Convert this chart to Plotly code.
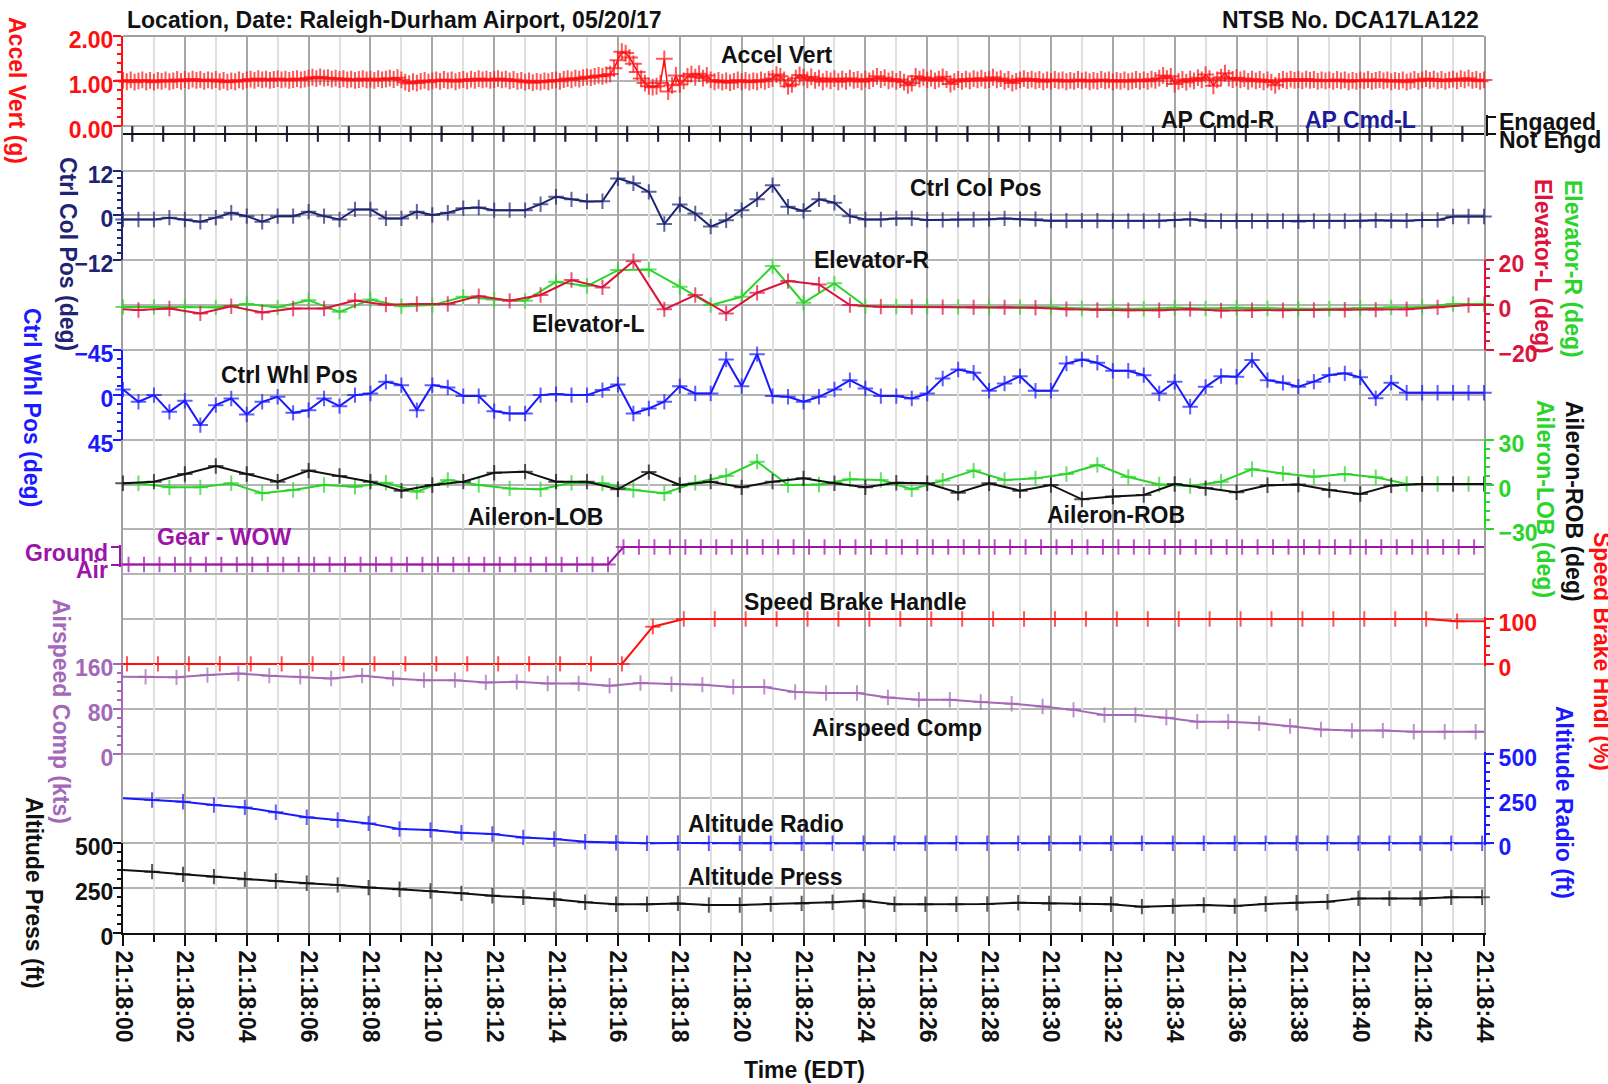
import numpy as np
import pandas as pd
import plotly.graph_objects as go

FONT = "Liberation Sans, Arial, sans-serif"
T0 = pd.Timestamp("2017-05-20 21:18:00")
SPAN = 44.0  # seconds shown on the time axis

# ---------------------------------------------------------------- data
# Accel Vert (g), 8 samples per second from 21:18:00
accel_vert = [
    1.01, 0.98, 1.02, 0.97, 1.00, 1.02, 0.98, 1.01,
    0.97, 1.01, 0.99, 1.02, 0.98, 1.00, 1.03, 0.99,
    1.03, 1.00, 1.04, 1.01, 1.03, 0.99, 1.02, 1.00,
    1.03, 0.98, 1.01, 0.97, 1.00, 0.98, 1.02, 0.99,
    1.02, 1.04, 1.01, 1.05, 1.02, 1.04, 1.01, 1.03,
    1.05, 1.02, 1.04, 1.01, 1.03, 1.05, 1.02, 1.04,
    1.06, 1.08, 1.05, 1.09, 1.06, 1.07, 1.04, 1.06,
    1.03, 1.05, 1.02, 1.04, 1.01, 1.03, 1.05, 1.02,
    1.04, 1.01, 1.05, 1.02, 1.04, 1.06, 1.03, 1.07,
    1.02, 0.97, 0.94, 0.98, 0.95, 0.99, 1.01, 0.97,
    1.00, 1.02, 0.99, 1.03, 1.00, 1.02, 0.98, 1.01,
    1.03, 1.00, 1.04, 1.01, 1.05, 1.02, 1.04, 1.01,
    1.03, 1.05, 1.02, 1.04, 1.00, 1.03, 0.99, 1.01,
    0.97, 1.00, 0.96, 0.99, 0.97, 1.00, 0.98, 1.01,
    1.02, 0.99, 1.03, 1.05, 1.02, 1.06, 1.04, 1.07,
    1.09, 1.07, 1.10, 1.12, 1.10, 1.13, 1.15, 1.28,
    1.46, 1.65, 1.62, 1.52, 1.38, 1.20, 1.05, 0.95,
    0.88, 0.86, 0.88, 0.95, 1.49, 0.76, 0.90, 1.12,
    0.92, 1.00, 1.10, 1.15, 1.08, 1.16, 1.06, 1.12,
    1.02, 0.98, 1.01, 0.97, 1.00, 0.96, 0.99, 1.02,
    0.98, 1.01, 0.97, 1.00, 0.98, 1.02, 0.99, 1.03,
    1.05, 1.14, 1.10, 1.02, 0.88, 0.92, 1.06, 1.13,
    1.08, 1.02, 1.09, 1.01, 1.06, 0.98, 1.04, 1.00,
    1.05, 0.98, 1.04, 0.99, 1.06, 1.01, 1.03, 0.98,
    1.04, 1.00, 1.05, 1.10, 1.03, 1.07, 1.00, 1.04,
    0.99, 1.03, 0.97, 0.90, 0.95, 1.10, 1.04, 1.08,
    1.02, 1.06, 1.00, 1.04, 1.09, 1.03, 0.93, 0.98,
    1.03, 0.99, 1.04, 1.00, 1.05, 1.02, 1.06, 1.01,
    1.03, 1.08, 1.02, 1.05, 0.99, 1.03, 0.95, 0.99,
    1.02, 1.05, 1.01, 1.04, 1.00, 1.03, 0.98, 1.02,
    0.99, 1.03, 1.00, 1.02, 0.98, 1.01, 0.99, 1.03,
    1.00, 1.02, 0.98, 1.01, 0.99, 1.03, 1.00, 1.02,
    0.98, 1.01, 0.99, 1.02, 0.98, 1.00, 1.03, 0.99,
    1.02, 0.99, 1.04, 1.01, 1.06, 1.12, 1.05, 1.10,
    0.93, 0.99, 1.03, 0.97, 1.04, 1.00, 1.07, 1.02,
    1.14, 1.05, 0.89, 1.02, 1.08, 1.17, 1.06, 1.03,
    1.07, 1.02, 1.05, 0.99, 1.04, 1.00, 1.03, 0.98,
    1.02, 0.97, 0.90, 0.99, 1.03, 1.00, 1.04, 1.01,
    1.03, 1.00, 1.04, 1.01, 1.03, 0.99, 1.02, 1.00,
    1.02, 0.99, 1.03, 1.00, 1.02, 0.98, 1.01, 0.99,
    1.02, 1.00, 1.03, 0.99, 1.01, 1.03, 1.00, 1.02,
    0.98, 1.01, 0.99, 1.02, 0.97, 1.00, 1.03, 0.99,
    1.02, 1.05, 1.01, 1.04, 1.00, 1.03, 0.99, 1.02,
    1.04, 1.00, 1.05, 1.02, 1.06, 1.01, 1.03, 0.99,
    1.02,
]

# Autopilot command discretes (0 = Not Engd, 1 = Engaged), 1 per second
ap_cmd_r = [
    0, 0, 0, 0, 0, 0, 0, 0, 0, 0, 0, 0, 0, 0, 0, 0, 0, 0, 0, 0, 0, 0,
    0, 0, 0, 0, 0, 0, 0, 0, 0, 0, 0, 0, 0, 0, 0, 0, 0, 0, 0, 0, 0, 0,
]
ap_cmd_l = [
    0, 0, 0, 0, 0, 0, 0, 0, 0, 0, 0, 0, 0, 0, 0, 0, 0, 0, 0, 0, 0, 0,
    0, 0, 0, 0, 0, 0, 0, 0, 0, 0, 0, 0, 0, 0, 0, 0, 0, 0, 0, 0, 0, 0,
]
ap_edge = (0, 0)

# Ctrl Col Pos (deg), 2 per second
ctrl_col = [
    -1.1, -1.1, -1.1, -0.6, -1.1, -1.7, -0.6, 0.7, -0.2, -1.7,
    -0.2, -0.2, 1.0, -0.2, -1.1, 1.6, 1.6, -0.8, -0.8, 1.0,
    0.1, 0.7, 1.9, 2.1, 1.4, 1.4, 1.4, 3.0, 5.0, 4.3,
    3.7, 3.8, 9.9, 8.6, 6.3, -2.3, 2.9, 0.5, -3.0, -1.3,
    1.4, 4.3, 8.1, 2.3, 1.2, 4.3, 3.4, -0.2, -1.1, -1.1,
    -0.8, -0.8, -1.2, -1.2, -1.1, -1.1, -1.0, -0.8, -1.0, -1.0,
    -1.4, -1.4, -1.4, -1.4, -1.5, -1.5, -1.5, -1.4, -1.2, -1.0,
    -1.4, -1.5, -1.5, -1.5, -1.5, -1.5, -1.6, -1.5, -1.5, -1.5,
    -1.4, -1.3, -1.4, -1.4, -1.2, -1.2, -0.3, -0.3, -0.3,
]

# Elevator-R (deg), 1 per second on the second
elevator_r = [
    -0.8, -0.8, -0.8, -1.0, 0.5, -1.0, 2.2, -3.0, 2.5, -0.5,
    0.0, 3.7, 2.5, 1.9, 10.4, 8.5, 15.6, 15.9, 8.2, 0.0,
    3.7, 17.4, 1.0, 9.7, -0.5, -0.7, -0.7, -0.8, -0.8, -0.9,
    -1.0, -1.5, -1.5, -1.6, -1.2, -1.5, -1.2, -1.5, -1.6, -1.6,
    -1.3, -1.0, -0.8, 0.5, 0.5,
]
# Elevator-L (deg), 1 per second on the half second
elevator_l = [
    -2.2, -1.5, -3.7, -0.5, -3.3, -1.5, -1.5, 2.0, 0.2, 0.5,
    0.5, 4.0, 1.9, 4.5, 11.2, 7.9, 19.6, -1.9, 4.5, -3.7,
    5.5, 10.7, 9.2, 0.0, -0.7, -0.8, -0.9, -1.0, -1.0, -1.2,
    -1.8, -2.2, -2.3, -2.3, -1.8, -2.4, -2.3, -2.3, -2.2, -2.1,
    -2.0, -1.8, -1.0, 0.0,
]
elevator_l_edge = (-1.9, 0.0)

# Ctrl Whl Pos (deg), 2 per second
ctrl_whl = [
    -5.4, 7.0, 0.3, 17.1, 6.0, 30.4, 10.4, 3.7, 19.7, 7.0,
    2.0, 18.1, 15.4, 3.7, 11.4, 0.3, -1.3, -13.0, -9.7, 15.4,
    -9.7, -7.4, 1.3, 1.3, 16.4, 18.7, 18.7, 0.3, -0.7, 0.3,
    0.3, -4.7, -10.4, 18.7, 13.7, 7.0, -8.7, -1.3, -1.3, -35.4,
    -8.7, -40.8, 1.3, 2.0, 7.0, 2.0, -5.4, -14.7, -6.4, 1.3,
    1.3, 3.7, -1.3, -16.4, -25.4, -22.1, -4.0, -11.4, -18.7, -4.0,
    -4.0, -31.4, -35.4, -32.1, -24.1, -24.1, -19.7, -1.3, -13.0, 12.0,
    -8.0, -18.7, -18.1, -34.8, -14.7, -12.0, -8.2, -13.2, -19.9, -21.5,
    -17.5, 3.5, -12.2, -2.0, -2.0, -2.0, -2.0, -2.0, -2.0,
]

# Aileron-ROB (deg), 1 per second on the second
aileron_rob = [
    0.8, 1.9, 7.0, 12.4, 7.0, 1.9, 9.3, 5.7, 1.9, -4.1,
    -0.3, 1.9, 7.9, 8.6, 1.9, 1.9, -3.2, 8.3, -0.3, 1.9,
    -1.9, 1.9, 4.1, 0.8, -1.9, 1.2, 0.8, -5.5, 0.8, -4.1,
    -0.3, -9.9, -8.1, -7.0, 0.3, -2.4, -5.2, -0.5, 0.0, -3.7,
    -6.4, -0.6, 0.3, 0.3, 0.3,
]
# Aileron-LOB (deg), 1 per second on the half second
aileron_lob = [
    0.8, -1.9, -1.9, 0.8, -5.9, -3.7, -0.3, -1.5, 1.2, -4.8,
    3.0, -0.3, -2.6, -3.2, 1.2, 0.8, -3.7, -5.9, 1.2, 5.7,
    15.3, -0.3, 0.0, 3.5, 3.0, -3.2, 2.6, 9.3, 3.0, 4.1,
    7.0, 13.1, 5.0, 0.0, -1.0, 1.9, 10.2, 7.3, 5.2, 7.0,
    4.8, 0.3, 0.3, 0.3,
]
aileron_lob_edge = (0.8, 0.3)

# Gear - WOW (0 = Air, 1 = Ground), 2 per second
gear_wow = [
    0, 0, 0, 0, 0, 0, 0, 0,
    0, 0, 0, 0, 0, 0, 0, 0,
    0, 0, 0, 0, 0, 0, 0, 0,
    0, 0, 0, 0, 0, 0, 0, 0,
    1, 1, 1, 1, 1, 1, 1, 1,
    1, 1, 1, 1, 1, 1, 1, 1,
    1, 1, 1, 1, 1, 1, 1, 1,
    1, 1, 1, 1, 1, 1, 1, 1,
    1, 1, 1, 1, 1, 1, 1, 1,
    1, 1, 1, 1, 1, 1, 1, 1,
    1, 1, 1, 1, 1, 1, 1, 1,
]
gear_edge = (0, 1)

# Speed Brake Handle (%), 1 per second
speed_brake = [
    0, 0, 0, 0, 0, 0, 0, 0, 0, 0,
    0, 0, 0, 0, 0, 0, 0, 83, 100, 100,
    100, 100, 100, 100, 100, 100, 100, 100, 100, 100,
    100, 100, 100, 100, 100, 100, 100, 100, 100, 100,
    100, 100, 100, 95,
]
speed_brake_edge = (0, 95)

# Airspeed Comp (kts), 1 per second
airspeed = [
    137, 136, 140, 143, 139, 137, 134, 139, 134, 131,
    131, 127, 128, 125, 125, 121, 126, 124, 123, 119,
    119, 110, 108, 108, 100, 96, 96, 92, 89, 84,
    78, 69, 69, 64, 57, 57, 54, 49, 43, 41,
    41, 39, 39, 39,
]
airspeed_edge = (137, 39)

# Altitude Radio (ft), 1 per second
alt_radio = [
    241, 232, 213, 200, 173, 145, 130, 111, 80, 74,
    59, 52, 33, 24, 9, 3, 0, 2, 0, 0,
    0, 0, 0, 0, 0, 0, 0, 0, 0, 0,
    0, 0, 0, 0, 0, 0, 0, 0, 0, 0,
    0, 0, 0, 0,
]
alt_radio_edge = (251, None)

# Altitude Press (ft), 1 per second
alt_press = [
    342, 327, 314, 299, 290, 277, 268, 253, 244, 234,
    221, 208, 199, 188, 171, 160, 160, 165, 156, 156,
    162, 165, 171, 180, 160, 160, 160, 162, 169, 165,
    162, 160, 147, 150, 156, 150, 162, 169, 174, 193,
    193, 193, 199, 199,
]
alt_press_edge = (351, None)

# sample times (s after 21:18:00)
accel_t = np.arange(len(accel_vert)) / 8.0
ap_t = 0.3 + np.arange(len(ap_cmd_r))
col_t = 0.5 * np.arange(len(ctrl_col))
elev_r_t = np.arange(len(elevator_r)) * 1.0
elev_l_t = 0.5 + np.arange(len(elevator_l))
whl_t = 0.5 * np.arange(len(ctrl_whl))
rob_t = np.arange(len(aileron_rob)) * 1.0
lob_t = 0.5 + np.arange(len(aileron_lob))
gear_t = 0.18 + 0.5 * np.arange(len(gear_wow))
sb_t = 0.13 + np.arange(len(speed_brake))
aspd_t = 0.73 + np.arange(len(airspeed))
alt_t = 0.94 + np.arange(len(alt_radio))

# ---------------------------------------------------------------- colours
RED = "#ff1010"
NAVY = "#1e2472"
CRIMSON = "#dc143c"
GREEN = "#2ad42a"
BLUE = "#1a1aff"
PURPLE = "#9c14a8"
LILAC = "#a468b8"
BLACK = "#111111"
GRID = "#b4b4b4"
MINOR_GRID = "#e0e0e0"
BORDER = "#a0a0a0"

# ---------------------------------------------------------------- geometry
W, H = 1608, 1084
ML, MR, MT, MB = 123, 124, 36, 151
PW, PH = W - ML - MR, H - MT - MB
ROWS = 20
ROW_PX = PH / ROWS


def band(top_row, bot_row, lo, hi, pad=0.0):
    """Domain/range for a strip of the grid: `hi` on top_row, `lo` on bot_row."""
    h = (bot_row - top_row) * ROW_PX
    upp = (hi - lo) / h
    d0 = 1 - bot_row / ROWS - pad / PH
    d1 = 1 - top_row / ROWS + pad / PH
    return [d0, d1], [lo - pad * upp, hi + pad * upp]


def value_axis(top_row, bot_row, lo, hi, color, side, tickvals, minor=None,
               fmt=None, pad=0.0, labels=True, free_shift=None):
    domain, rng = band(top_row, bot_row, lo, hi, pad)
    # labels sit a few pixels below their ticks (shift follows the value direction)
    shift = 4 if hi > lo else -4
    ax = dict(domain=domain, range=rng, side=side, showgrid=False, zeroline=False,
              showline=True, linecolor=color, linewidth=2,
              ticks="outside", ticklen=8, tickwidth=2, tickcolor=color,
              tickmode="array", tickvals=tickvals, showticklabels=labels,
              ticklabelstandoff=-5 if side == "left" else 0,
              ticklabelshift=shift,
              tickfont=dict(family=FONT, size=23, color=color, weight="bold"),
              fixedrange=True)
    if free_shift is None:
        ax["anchor"] = "x"
    else:
        ax["anchor"] = "free"
        ax["position"] = 0 if side == "left" else 1
        ax["shift"] = free_shift
    if fmt:
        ax["tickformat"] = fmt
    if minor:
        ax["minor"] = dict(dtick=minor, ticks="outside", ticklen=4, tickwidth=1.5,
                           tickcolor=color, showgrid=False)
    return ax


fig = go.Figure()


def to_time(seconds):
    return [T0 + pd.Timedelta(seconds=float(s)) for s in seconds]


def series(t, v, yref, color, edge=(None, None), size=11, width=2):
    t = list(t)
    v = list(v)
    sizes = [size] * len(v)
    lead, tail = edge
    if lead is not None:
        t, v, sizes = [0.0] + t, [lead] + v, [0] + sizes
    if tail is not None:
        t, v, sizes = t + [SPAN], v + [tail], sizes + [0]
    fig.add_trace(go.Scatter(
        x=to_time(t), y=v, xaxis="x", yaxis=yref, mode="lines+markers",
        line=dict(color=color, width=width),
        marker=dict(symbol="cross-thin", size=sizes, color=color,
                    line=dict(color=color, width=2)),
        cliponaxis=False, showlegend=False, hoverinfo="skip"))


# empty trace that carries the background grid subplot
fig.add_trace(go.Scatter(x=[], y=[], xaxis="x", yaxis="y", showlegend=False))

series(accel_t, accel_vert, "y2", RED, size=12, width=1.5)
series(ap_t, ap_cmd_l, "y3", NAVY, edge=ap_edge)
series(ap_t, ap_cmd_r, "y3", BLACK, edge=ap_edge)
series(col_t, ctrl_col, "y4", NAVY)
series(elev_r_t, elevator_r, "y5", GREEN)
series(elev_l_t, elevator_l, "y5", CRIMSON, edge=elevator_l_edge)
series(whl_t, ctrl_whl, "y6", BLUE)
series(lob_t, aileron_lob, "y7", GREEN, edge=aileron_lob_edge)
series(rob_t, aileron_rob, "y7", BLACK)
series(gear_t, gear_wow, "y8", PURPLE, edge=gear_edge)
series(sb_t, speed_brake, "y9", RED, edge=speed_brake_edge)
series(aspd_t, airspeed, "y10", LILAC, edge=airspeed_edge)
series(alt_t, alt_radio, "y11", BLUE, edge=alt_radio_edge)
series(alt_t, alt_press, "y12", BLACK, edge=alt_press_edge)

AP_TOP, AP_BOT = 1.806, 2.185
GEAR_TOP, GEAR_BOT = 11.394, 11.784

layout_axes = dict(
    yaxis=dict(domain=[0, 1], range=[0, ROWS], tickmode="linear", tick0=0, dtick=1,
               showgrid=True, gridcolor=GRID, gridwidth=2, showticklabels=False,
               ticks="", zeroline=False, showline=True, linecolor=BORDER,
               linewidth=2, mirror=True, anchor="x", fixedrange=True),
    yaxis2=value_axis(0, 2, 0, 2, RED, "left", [0, 1, 2], minor=0.2, fmt=".2f"),
    yaxis3=value_axis(AP_TOP, AP_BOT, 0, 1, BLACK, "right", [0, 1], pad=2,
                      labels=False, free_shift=3),
    yaxis4=value_axis(3, 5, -12, 12, NAVY, "left", [-12, 0, 12], minor=2),
    yaxis5=value_axis(5, 7, -20, 20, CRIMSON, "right", [-20, 0, 20], minor=4),
    yaxis6=value_axis(7, 9, 45, -45, BLUE, "left", [-45, 0, 45], minor=9),
    yaxis7=value_axis(9, 11, -30, 30, GREEN, "right", [-30, 0, 30], minor=6),
    yaxis8=value_axis(GEAR_TOP, GEAR_BOT, 0, 1, PURPLE, "left", [0, 1], pad=2,
                      labels=False, free_shift=-3),
    yaxis9=value_axis(13, 14, 0, 100, RED, "right", [0, 100], minor=20, pad=2),
    yaxis10=value_axis(14, 16, 0, 160, LILAC, "left", [0, 80, 160], minor=16),
    yaxis11=value_axis(16, 18, 0, 500, BLUE, "right", [0, 250, 500], minor=50, pad=2),
    yaxis12=value_axis(18, 20, 0, 500, BLACK, "left", [0, 250, 500], minor=50),
)

fig.update_layout(
    width=W, height=H, autosize=False,
    margin=dict(l=ML, r=MR, t=MT, b=MB, pad=0, autoexpand=False),
    paper_bgcolor="white", plot_bgcolor="rgba(0,0,0,0)", showlegend=False,
    xaxis=dict(type="date", range=[T0, T0 + pd.Timedelta(seconds=SPAN)], anchor="y",
               showgrid=True, gridcolor="#a8a8a8", gridwidth=2,
               tickmode="linear", tick0=T0, dtick=2000, tickformat="%H:%M:%S",
               tickangle=90, ticks="outside", ticklen=11, tickwidth=2,
               tickcolor=BLACK, showline=True, linecolor=BLACK, linewidth=2,
               zeroline=False, fixedrange=True,
               tickfont=dict(family=FONT, size=23, color=BLACK, weight="bold"),
               minor=dict(dtick=1000, showgrid=True, gridcolor=MINOR_GRID,
                          gridwidth=1.5, ticks="outside", ticklen=7,
                          tickwidth=2, tickcolor=BLACK)),
    **layout_axes,
)

# top edge of the plotting frame
fig.add_shape(type="line", xref="paper", yref="paper", x0=0, x1=1, y0=1, y1=1,
              line=dict(color=BORDER, width=2), layer="above")


def px_x(x):
    return (x - ML) / PW


def px_y(y):
    return 1 - (y - MT) / PH


def label(text, x, y, color=BLACK, angle=0, xanchor="center", yanchor="middle"):
    fig.add_annotation(text=text, x=px_x(x), y=px_y(y), xref="paper", yref="paper",
                       showarrow=False, textangle=angle, xanchor=xanchor,
                       yanchor=yanchor, borderpad=0,
                       font=dict(family=FONT, size=23, color=color, weight="bold"))


# header
label("Location, Date: Raleigh-Durham Airport, 05/20/17", 126, 20.5, xanchor="left")
label("NTSB No. DCA17LA122", 1480, 20.5, xanchor="right")

# parameter names inside the plot
label("Accel Vert", 777, 55)
label("AP Cmd-R", 1218, 120)
label("AP Cmd-L", 1360, 120, color="#1c1c9a")
label("Ctrl Col Pos", 976, 188)
label("Elevator-R", 871, 260)
label("Elevator-L", 588, 324)
label("Ctrl Whl Pos", 289, 375)
label("Aileron-LOB", 535, 517)
label("Aileron-ROB", 1116, 515)
label("Gear - WOW", 224, 537, color=PURPLE)
label("Speed Brake Handle", 855, 602)
label("Airspeed Comp", 897, 728)
label("Altitude Radio", 766, 824)
label("Altitude Press", 765, 877)
label("Time (EDT)", 804, 1070)

# discrete state labels
label("Engaged", 1498, 122, xanchor="left")
label("Not Engd", 1498, 140, xanchor="left")
label("Ground", 109, 553, color=PURPLE, xanchor="right")
label("Air", 109, 570, color=PURPLE, xanchor="right")

# axis titles, left
label("Accel Vert (g)", 17, 90, color=RED, angle=90)
label("Ctrl Col Pos (deg)", 68, 254, color=NAVY, angle=90)
label("Ctrl Whl Pos (deg)", 32, 407, color=BLUE, angle=90)
label("Airspeed Comp (kts)", 61, 712, color=LILAC, angle=90)
label("Altitude Press (ft)", 34, 893, color=BLACK, angle=90)

# axis titles, right
label("Elevator-L (deg)", 1543, 266, color=CRIMSON, angle=90)
label("Elevator-R (deg)", 1573, 269, color=GREEN, angle=90)
label("Aileron-LOB (deg)", 1545, 499, color=GREEN, angle=90)
label("Aileron-ROB (deg)", 1574, 501, color=BLACK, angle=90)
label("Speed Brake Hndl (%)", 1602, 651, color=RED, angle=90)
label("Altitude Radio (ft)", 1564, 802, color=BLUE, angle=90)

fig.write_html("out.html")
